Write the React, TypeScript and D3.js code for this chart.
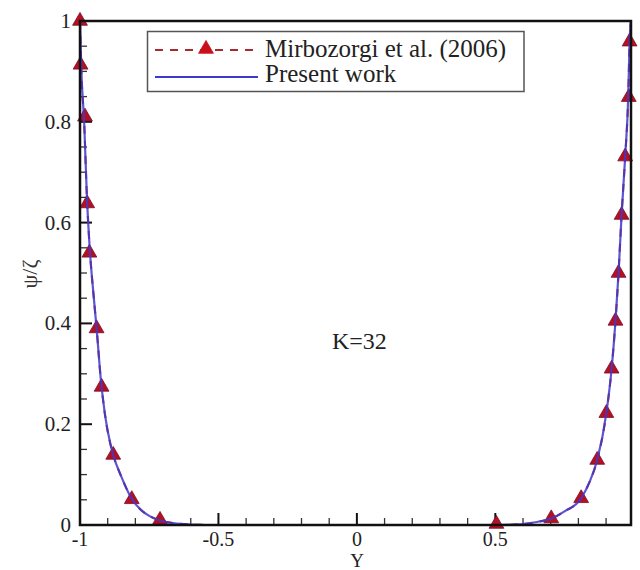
import React from "react";
import * as d3 from "d3";

// Mirbozorgi et al. (2006) markers
const refY = [-1, -0.998, -0.982, -0.974, -0.966, -0.94, -0.922, -0.88, -0.813, -0.711, 0.504, 0.702, 0.81, 0.868, 0.901, 0.92, 0.934, 0.945, 0.956, 0.969, 0.982, 0.985];
const refPsi = [1.0, 0.913, 0.81, 0.638, 0.54, 0.39, 0.274, 0.139, 0.051, 0.01, 0.002, 0.013, 0.053, 0.129, 0.222, 0.31, 0.405, 0.5, 0.615, 0.731, 0.849, 0.959];

// Present work line (the dashed reference curve runs along the same profile)
const curY = [-1, -0.995, -0.985, -0.975, -0.965, -0.95, -0.94, -0.925, -0.91, -0.89, -0.88, -0.85, -0.813, -0.78, -0.75, -0.711, -0.65, -0.6, -0.5, 0.5, 0.6, 0.65, 0.702, 0.75, 0.81, 0.84, 0.868, 0.901, 0.92, 0.934, 0.945, 0.956, 0.969, 0.98, 0.985, 0.99];
const curPsi = [1.0, 0.9, 0.8, 0.65, 0.55, 0.45, 0.39, 0.29, 0.22, 0.16, 0.139, 0.095, 0.052, 0.03, 0.018, 0.009, 0.003, 0.001, 0, 0, 0.002, 0.006, 0.013, 0.027, 0.053, 0.085, 0.129, 0.222, 0.31, 0.405, 0.5, 0.615, 0.731, 0.85, 0.96, 1.0];

const xMajor = [-1, -0.5, 0, 0.5];
const xMajorLabels = ["-1", "-0.5", "0", "0.5"];
const xMinor = [-0.9, -0.8, -0.7, -0.6, -0.4, -0.3, -0.2, -0.1, 0.1, 0.2, 0.3, 0.4, 0.6, 0.7, 0.8, 0.9];
const yMajor = [0, 0.2, 0.4, 0.6, 0.8, 1];
const yMajorLabels = ["0", "0.2", "0.4", "0.6", "0.8", "1"];
const yMinor = [0.05, 0.1, 0.15, 0.25, 0.3, 0.35, 0.45, 0.5, 0.55, 0.65, 0.7, 0.75, 0.85, 0.9, 0.95];

const legendLabels = ["Mirbozorgi et al. (2006)", "Present work"];

const L = 80, R = 631, T = 21, B = 525;
const FONT = "Liberation Serif, Times New Roman, DejaVu Serif, serif";
const RED = "#b5101f";
const DARKRED = "#a82a2a";
const BLUE = "#4038cc";

export default function App() {
  const x = d3.scaleLinear().domain([-1, 0.99]).range([L, R]);
  const y = d3.scaleLinear().domain([0, 1]).range([B, T]);

  const refPts: [number, number][] = refY.map((v, i) => [v, refPsi[i]]);
  const curPts: [number, number][] = curY.map((v, i) => [v, curPsi[i]]);

  const lineGen = d3.line<[number, number]>().x(d => x(d[0])).y(d => y(d[1])).curve(d3.curveMonotoneX);
  const dashed = lineGen(curPts) || "";
  const solid = lineGen(curPts) || "";
  const tri = d3.symbol().type(d3.symbolTriangle).size(95)() || "";
  const tf = { fontFamily: FONT };

  return (
    <svg width={640} height={570} style={{ position: "absolute", left: 0, top: 0, background: "#fff" }}>
      <rect x={0} y={0} width={640} height={570} fill="#fff" />
      {/* ticks */}
      {xMajor.map(v => (
        <line key={"xM" + v} x1={x(v)} x2={x(v)} y1={B} y2={B - 12} stroke="#111" strokeWidth={2} />
      ))}
      {xMinor.map(v => (
        <line key={"xm" + v} x1={x(v)} x2={x(v)} y1={B} y2={B - 7} stroke="#333" strokeWidth={1.3} />
      ))}
      {yMajor.map(v => (
        <line key={"yM" + v} x1={L} x2={L + 12} y1={y(v)} y2={y(v)} stroke="#111" strokeWidth={2} />
      ))}
      {yMinor.map(v => (
        <line key={"ym" + v} x1={L} x2={L + 7} y1={y(v)} y2={y(v)} stroke="#333" strokeWidth={1.3} />
      ))}
      {/* tick labels */}
      {xMajor.map((v, i) => (
        <text key={"xl" + v} x={x(v)} y={546} textAnchor="middle" style={tf} fontSize={20} fill="#222">{xMajorLabels[i]}</text>
      ))}
      {yMajor.map((v, i) => (
        <text key={"yl" + v} x={71} y={y(v) + 7} textAnchor="end" style={tf} fontSize={21} fill="#222">{yMajorLabels[i]}</text>
      ))}
      {/* axis titles */}
      <text x={357} y={567} textAnchor="middle" style={tf} fontSize={19} fill="#222">Y</text>
      <text transform="translate(37,274) rotate(-90)" textAnchor="middle" style={tf} fontSize={22} fill="#333">ψ/ζ</text>
      <text x={332} y={349} style={tf} fontSize={24} fill="#222">K=32</text>

      {/* data */}
      <path d={dashed} fill="none" stroke={DARKRED} strokeWidth={2} strokeDasharray="8,7" />
      {refPts.map((p, i) => (
        <path key={"m" + i} d={tri} transform={`translate(${x(p[0])},${y(p[1])})`} fill={RED} stroke="#7a0c2a" strokeWidth={0.8} />
      ))}
      <path d={solid} fill="none" stroke={BLUE} strokeWidth={2.2} strokeOpacity={0.85} />

      {/* frame */}
      <rect x={L} y={T} width={R - L} height={B - T} fill="none" stroke="#111" strokeWidth={2.5} />

      {/* legend */}
      <rect x={147.5} y={31.5} width={376.5} height={60} fill="#fff" stroke="#555" strokeWidth={1.5} />
      <line x1={155} x2={258} y1={50} y2={50} stroke={DARKRED} strokeWidth={2} strokeDasharray="8,7" />
      <path d={tri} transform="translate(206,49)" fill="#c8101a" stroke="#c8101a" strokeWidth={0.8} />
      <line x1={155} x2={258} y1={77} y2={77} stroke={BLUE} strokeWidth={2.2} />
      <text x={265} y={57} style={tf} fontSize={25} fill="#222">{legendLabels[0]}</text>
      <text x={265} y={82} style={tf} fontSize={25} fill="#222">{legendLabels[1]}</text>
    </svg>
  );
}
